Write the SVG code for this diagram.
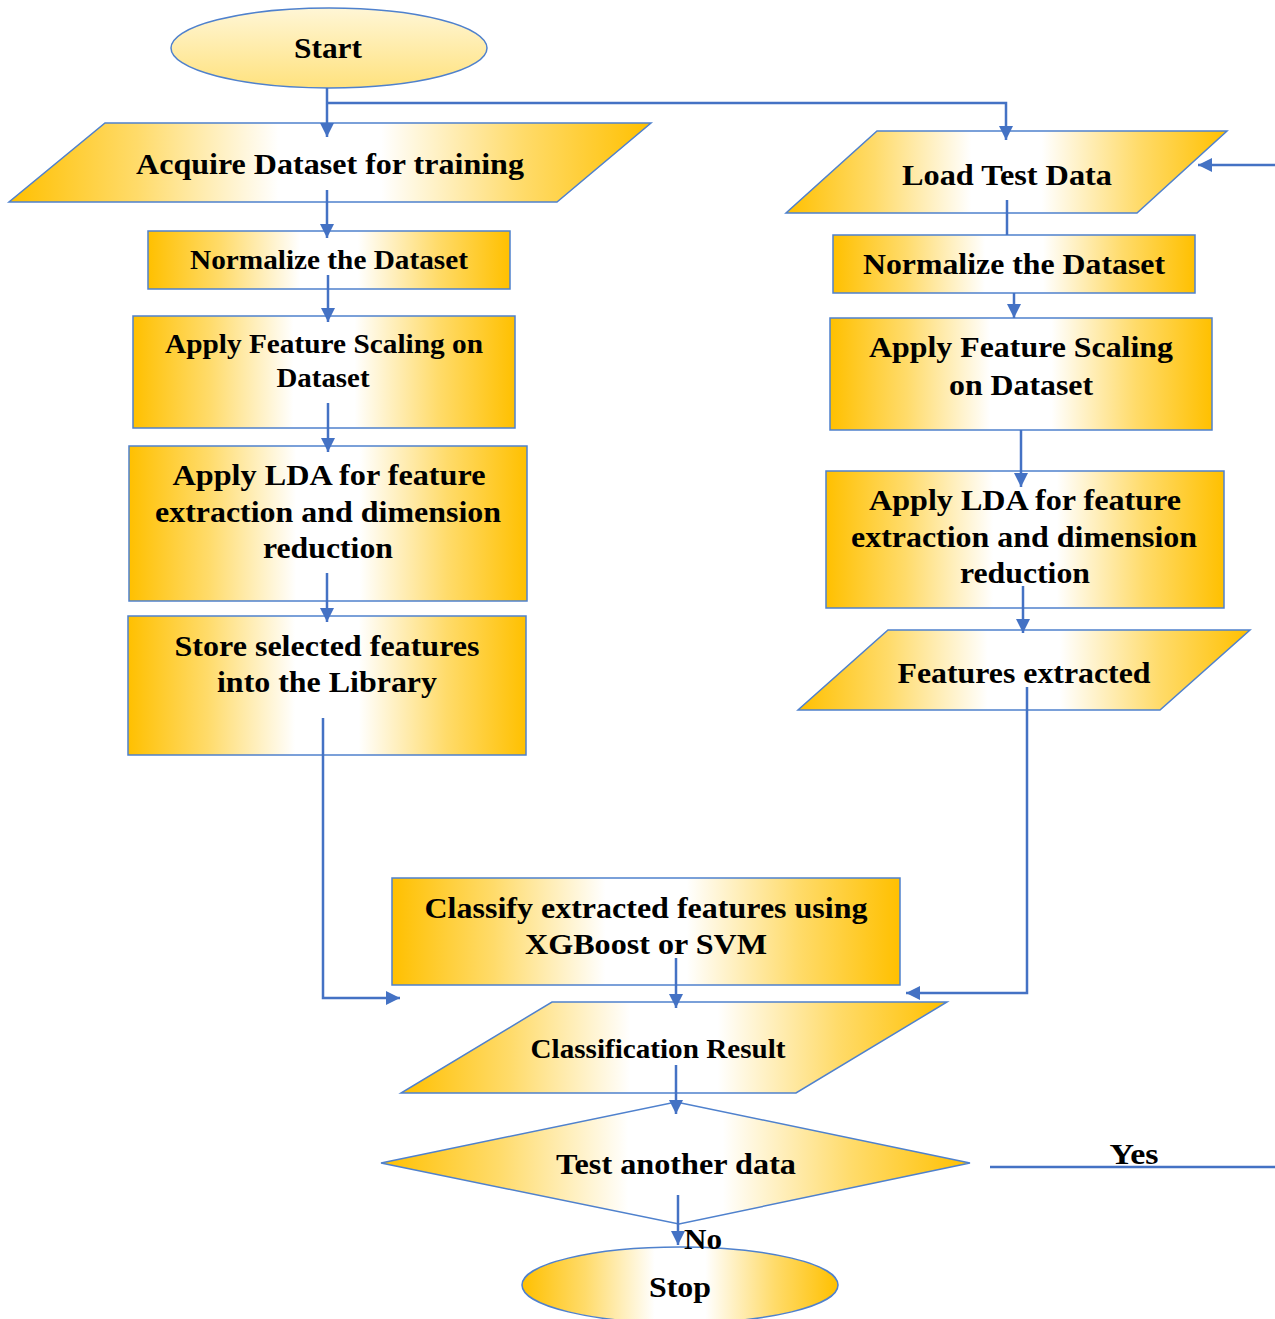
<svg xmlns="http://www.w3.org/2000/svg" width="1275" height="1319" viewBox="0 0 1275 1319">
<defs>
<linearGradient id="gold" x1="0" y1="0" x2="1" y2="0">
<stop offset="0" stop-color="#FFC000"/>
<stop offset="0.2" stop-color="#FFDB6A"/>
<stop offset="0.42" stop-color="#FFFFFF"/>
<stop offset="0.58" stop-color="#FFFFFF"/>
<stop offset="0.8" stop-color="#FFDB6A"/>
<stop offset="1" stop-color="#FFC000"/>
</linearGradient>
<linearGradient id="pale" x1="0" y1="0" x2="0" y2="1">
<stop offset="0" stop-color="#FFF6D6"/>
<stop offset="1" stop-color="#FFE27E"/>
</linearGradient>
<marker id="arr" markerUnits="userSpaceOnUse" markerWidth="14" markerHeight="16" refX="14" refY="7" orient="auto">
<path d="M0,0 L14,7 L0,14 Z" fill="#4472C4"/>
</marker>
<style>
.box{fill:url(#gold);stroke:#4F81CD;stroke-width:1.5}
.pale{fill:url(#pale);stroke:#4F81CD;stroke-width:1.5}
.t{font-family:"Liberation Serif","Times New Roman",serif;font-weight:bold;fill:#000;text-anchor:middle}
.c{fill:none;stroke:#4472C4;stroke-width:2.5}
</style>
</defs>

<g id="start">
<ellipse cx="329" cy="48" rx="158" ry="40" class="pale"/>
<text class="t" x="328" y="58" font-size="30" textLength="68" lengthAdjust="spacingAndGlyphs">Start</text>
</g>

<g id="acquire">
<polygon points="105,123 651,123 557,202 9,202" class="box"/>
<text class="t" x="330" y="174" font-size="30" textLength="388" lengthAdjust="spacingAndGlyphs">Acquire Dataset for training</text>
</g>

<g id="normalize-train">
<rect x="148" y="231" width="362" height="58" class="box"/>
<text class="t" x="329" y="269" font-size="27" textLength="278" lengthAdjust="spacingAndGlyphs">Normalize the Dataset</text>
</g>

<g id="scaling-train">
<rect x="133" y="316" width="382" height="112" class="box"/>
<text class="t" x="324" y="353" font-size="28" textLength="318" lengthAdjust="spacingAndGlyphs">Apply Feature Scaling on</text>
<text class="t" x="323" y="387" font-size="28" textLength="93" lengthAdjust="spacingAndGlyphs">Dataset</text>
</g>

<g id="lda-train">
<rect x="129" y="446" width="398" height="155" class="box"/>
<text class="t" x="329" y="485" font-size="30" textLength="313" lengthAdjust="spacingAndGlyphs">Apply LDA for feature</text>
<text class="t" x="328" y="522" font-size="30" textLength="346" lengthAdjust="spacingAndGlyphs">extraction and dimension</text>
<text class="t" x="328" y="558" font-size="30" textLength="130" lengthAdjust="spacingAndGlyphs">reduction</text>
</g>

<g id="store">
<rect x="128" y="616" width="398" height="139" class="box"/>
<text class="t" x="327" y="656" font-size="30" textLength="305" lengthAdjust="spacingAndGlyphs">Store selected features</text>
<text class="t" x="327" y="692" font-size="30" textLength="220" lengthAdjust="spacingAndGlyphs">into the Library</text>
</g>

<g id="load-test">
<polygon points="877,131 1227,131 1137,213 786,213" class="box"/>
<text class="t" x="1007" y="185" font-size="29" textLength="210" lengthAdjust="spacingAndGlyphs">Load Test Data</text>
</g>

<g id="normalize-test">
<rect x="833" y="235" width="362" height="58" class="box"/>
<text class="t" x="1014" y="274" font-size="29" textLength="302" lengthAdjust="spacingAndGlyphs">Normalize the Dataset</text>
</g>

<g id="scaling-test">
<rect x="830" y="318" width="382" height="112" class="box"/>
<text class="t" x="1021" y="357" font-size="30" textLength="304" lengthAdjust="spacingAndGlyphs">Apply Feature Scaling</text>
<text class="t" x="1021" y="395" font-size="30" textLength="144" lengthAdjust="spacingAndGlyphs">on Dataset</text>
</g>

<g id="lda-test">
<rect x="826" y="471" width="398" height="137" class="box"/>
<text class="t" x="1025" y="510" font-size="30" textLength="312" lengthAdjust="spacingAndGlyphs">Apply LDA for feature</text>
<text class="t" x="1024" y="547" font-size="30" textLength="346" lengthAdjust="spacingAndGlyphs">extraction and dimension</text>
<text class="t" x="1025" y="583" font-size="30" textLength="130" lengthAdjust="spacingAndGlyphs">reduction</text>
</g>

<g id="features-extracted">
<polygon points="888,630 1250,630 1160,710 798,710" class="box"/>
<text class="t" x="1024" y="683" font-size="29" textLength="253" lengthAdjust="spacingAndGlyphs">Features extracted</text>
</g>

<g id="classify">
<rect x="392" y="878" width="508" height="107" class="box"/>
<text class="t" x="646" y="918" font-size="30" textLength="443" lengthAdjust="spacingAndGlyphs">Classify extracted features using</text>
<text class="t" x="646" y="954" font-size="30" textLength="242" lengthAdjust="spacingAndGlyphs">XGBoost or SVM</text>
</g>

<g id="result">
<polygon points="552,1002 947,1002 796,1093 401,1093" class="box"/>
<text class="t" x="658" y="1058" font-size="27" textLength="255" lengthAdjust="spacingAndGlyphs">Classification Result</text>
</g>

<g id="decision">
<polygon points="676,1102 970,1163 679,1224 381,1163" class="box"/>
<text class="t" x="676" y="1174" font-size="29" textLength="240" lengthAdjust="spacingAndGlyphs">Test another data</text>
</g>

<g id="stop">
<ellipse cx="680" cy="1285" rx="158" ry="38" class="box"/>
<text class="t" x="680" y="1297" font-size="30" textLength="62" lengthAdjust="spacingAndGlyphs">Stop</text>
</g>

<g id="connectors">
<line class="c" x1="327" y1="88" x2="327" y2="137" marker-end="url(#arr)"/>
<polyline class="c" points="327,103 1006,103 1006,140" marker-end="url(#arr)"/>
<line class="c" x1="327" y1="190" x2="327" y2="238" marker-end="url(#arr)"/>
<line class="c" x1="328" y1="275" x2="328" y2="322" marker-end="url(#arr)"/>
<line class="c" x1="328" y1="403" x2="328" y2="452" marker-end="url(#arr)"/>
<line class="c" x1="327" y1="573" x2="327" y2="622" marker-end="url(#arr)"/>
<polyline class="c" points="323,718 323,998 400,998" marker-end="url(#arr)"/>
<line class="c" x1="1007" y1="200" x2="1007" y2="235"/>
<line class="c" x1="1014" y1="293" x2="1014" y2="318" marker-end="url(#arr)"/>
<line class="c" x1="1021" y1="430" x2="1021" y2="487" marker-end="url(#arr)"/>
<line class="c" x1="1023" y1="586" x2="1023" y2="633" marker-end="url(#arr)"/>
<polyline class="c" points="1027,687 1027,993 906,993" marker-end="url(#arr)"/>
<line class="c" x1="676" y1="958" x2="676" y2="1008" marker-end="url(#arr)"/>
<line class="c" x1="676" y1="1065" x2="676" y2="1114" marker-end="url(#arr)"/>
<line class="c" x1="678" y1="1195" x2="678" y2="1245" marker-end="url(#arr)"/>
<line class="c" x1="990" y1="1167" x2="1275" y2="1167"/>
<line class="c" x1="1275" y1="165" x2="1198" y2="165" marker-end="url(#arr)"/>
<text class="t" x="703" y="1249" font-size="29" textLength="38" lengthAdjust="spacingAndGlyphs">No</text>
<text class="t" x="1134" y="1164" font-size="29" textLength="49" lengthAdjust="spacingAndGlyphs">Yes</text>
</g>
</svg>
